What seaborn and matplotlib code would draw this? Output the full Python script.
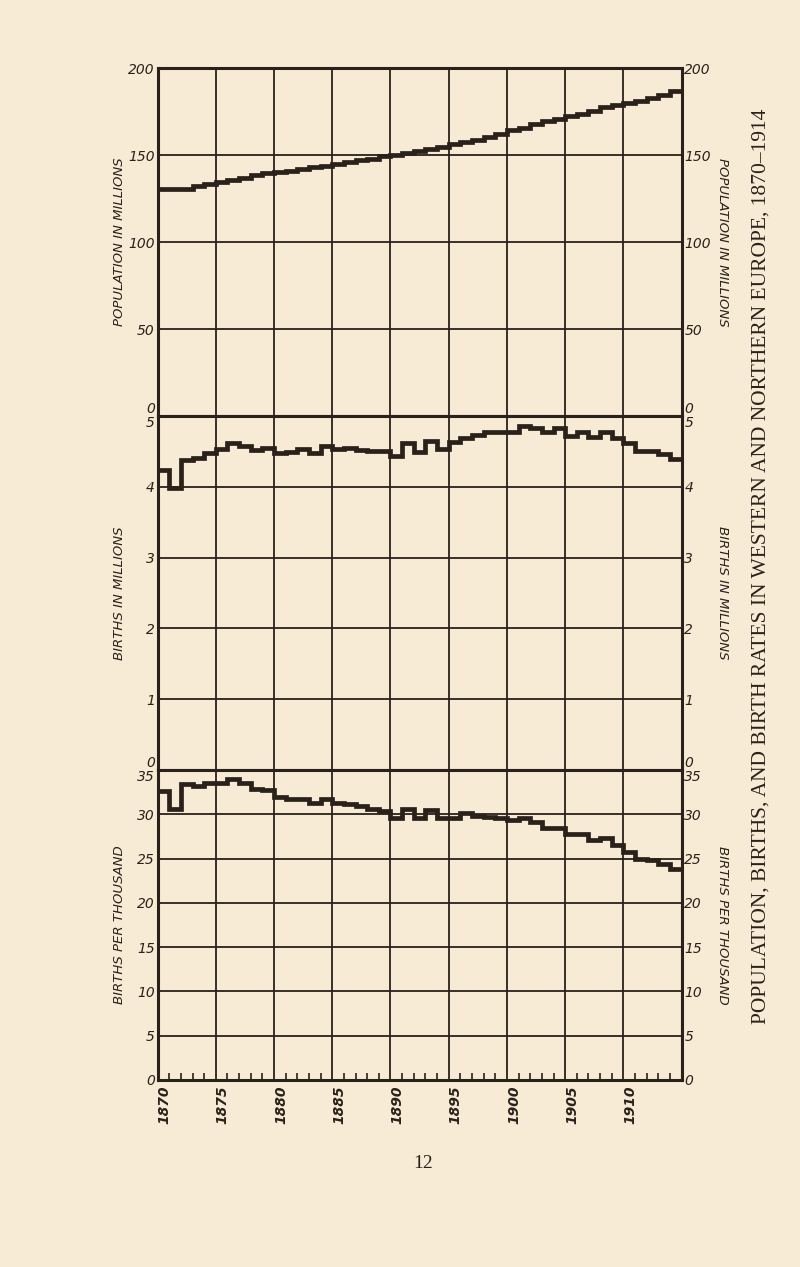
import matplotlib
matplotlib.use('Agg')
import matplotlib.pyplot as plt
import seaborn as sns
import pandas as pd

# values, one per year 1870-1914
years = list(range(1870, 1915))
population = [130.5, 130.5, 130.8, 132.0, 133.5, 134.4, 135.7, 136.7, 138.4, 139.5,
              140.3, 141.0, 141.8, 143.0, 143.9, 145.2, 146.2, 147.1, 148.1, 149.4,
              150.4, 151.5, 152.5, 153.4, 154.8, 156.3, 157.4, 159.0, 160.5, 162.4,
              164.3, 165.8, 167.7, 169.6, 171.0, 172.4, 173.8, 175.7, 177.6, 178.9,
              180.0, 181.4, 182.9, 184.6, 186.7]
births_millions = [4.24, 3.98, 4.38, 4.41, 4.47, 4.53, 4.62, 4.57, 4.52, 4.55,
                   4.47, 4.49, 4.53, 4.47, 4.58, 4.53, 4.55, 4.52, 4.51, 4.51,
                   4.43, 4.62, 4.49, 4.64, 4.54, 4.63, 4.69, 4.73, 4.77, 4.78,
                   4.78, 4.86, 4.83, 4.78, 4.83, 4.71, 4.78, 4.70, 4.78, 4.69,
                   4.62, 4.51, 4.51, 4.46, 4.39]
birth_rate = [32.6, 30.6, 33.4, 33.2, 33.5, 33.5, 34.0, 33.5, 32.9, 32.7,
              31.9, 31.7, 31.7, 31.3, 31.7, 31.3, 31.2, 30.9, 30.6, 30.4,
              29.6, 30.6, 29.6, 30.5, 29.6, 29.6, 30.1, 29.8, 29.7, 29.6,
              29.4, 29.6, 29.1, 28.4, 28.4, 27.8, 27.8, 27.1, 27.3, 26.5,
              25.7, 25.0, 24.8, 24.4, 23.8]

panel_labels = ['POPULATION IN MILLIONS', 'BIRTHS IN MILLIONS', 'BIRTHS PER THOUSAND']
panel_ylims = [(0, 200), (0, 5), (0, 35)]
panel_yticks = [[0, 50, 100, 150, 200], [0, 1, 2, 3, 4, 5], [0, 5, 10, 15, 20, 25, 30, 35]]
year_ticks = list(range(1870, 1911, 5))
caption = 'Population, Births, and Birth Rates in Western and Northern Europe, 1870\u20131914'
page_no = '12'

paper = '#f7ebd6'
ink = '#2a211a'

sns.set_style('white')
plt.rcParams['font.family'] = ['DejaVu Sans']
plt.rcParams['axes.facecolor'] = paper
plt.rcParams['figure.facecolor'] = paper

fig = plt.figure(figsize=(8, 12.67), dpi=100)

# axes boxes (left, bottom, width, height) in figure fraction
boxes = [(0.197, 0.6717, 0.655, 0.2744),
         (0.197, 0.3923, 0.655, 0.2794),
         (0.197, 0.1476, 0.655, 0.2447)]
series = [population, births_millions, birth_rate]

axes = []
for i, (box, vals) in enumerate(zip(boxes, series)):
    ax = fig.add_axes(box)
    axes.append(ax)
    df = pd.DataFrame({'year': years + [1915], 'value': vals + [vals[-1]]})
    sns.lineplot(data=df, x='year', y='value', ax=ax, color=ink, linewidth=3.4,
                 drawstyle='steps-post', solid_joinstyle='miter', zorder=5)
    ax.set_xlim(1870, 1915)
    ax.set_ylim(*panel_ylims[i])
    ax.set_yticks(panel_yticks[i])
    ax.set_xticks(list(range(1870, 1916, 5)))
    ax.grid(True, color=ink, linewidth=1.3, zorder=1)
    for s in ax.spines.values():
        s.set_color(ink)
        s.set_linewidth(2.2)
    ax.tick_params(axis='y', length=0, pad=2, left=True, right=True,
                   labelleft=True, labelright=True, labelsize=10, labelcolor=ink)
    ax.set_ylabel('')
    ax.set_xlabel('')
    for t in ax.yaxis.get_major_ticks():
        for lab in (t.label1, t.label2):
            lab.set_fontstyle('italic')
    ticks = ax.yaxis.get_major_ticks()
    # split labels on the shared panel borders: "0" above, top value below
    if i < 2:
        for lab in (ticks[0].label1, ticks[0].label2):
            lab.set_va('bottom')
    if i > 0:
        for lab in (ticks[-1].label1, ticks[-1].label2):
            lab.set_va('top')
    if i < 2:
        ax.tick_params(axis='x', length=0, labelbottom=False)
    # axis titles on both sides
    ax.text(-0.072, 0.5, panel_labels[i], transform=ax.transAxes, rotation=90,
            ha='center', va='center', fontstyle='italic', fontsize=9.5, color=ink)
    ax.text(1.079, 0.5, panel_labels[i], transform=ax.transAxes, rotation=-90,
            ha='center', va='center', fontstyle='italic', fontsize=9.5, color=ink)

# bottom year axis
ax3 = axes[2]
ax3.set_xticks(year_ticks)
ax3.set_xticklabels([str(y) for y in year_ticks], rotation=90, ha='left', va='top',
                    fontstyle='italic', fontweight='bold', fontsize=10, color=ink)
ax3.set_xticks(years, minor=True)
ax3.tick_params(axis='x', which='minor', direction='in', length=5, width=1.2,
                color=ink, bottom=True)
ax3.tick_params(axis='x', which='major', length=0, pad=4)
ax3.grid(True, which='major', color=ink, linewidth=1.3)
ax3.axvline(1915, color=ink, linewidth=2.2)

fig.text(0.951, 0.553, caption.upper(), rotation=90, ha='center', va='center',
         family=['Liberation Serif', 'DejaVu Serif'], fontsize=15.5, color=ink)
fig.text(0.529, 0.082, page_no, ha='center', va='center',
         family=['Liberation Serif', 'DejaVu Serif'], fontsize=14, color=ink)

fig.savefig('out.png', dpi=100, facecolor=paper)
